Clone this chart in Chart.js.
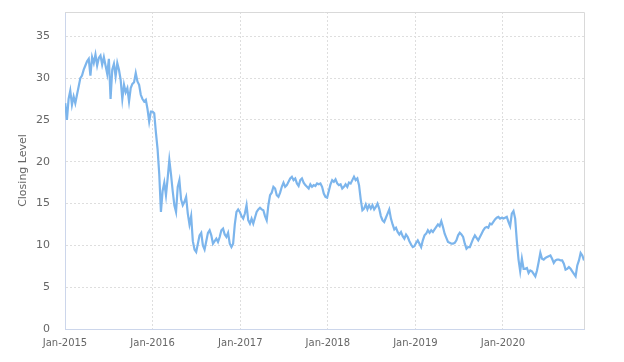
<!DOCTYPE html>
<html>
<head>
<meta charset="utf-8">
<script src="https://cdn.jsdelivr.net/npm/chart.js@4/dist/chart.umd.min.js"></script>
<style>
  html, body { margin: 0; padding: 0; background: #fff; }
  #wrap { width: 624px; height: 362px; position: relative; }
</style>
</head>
<body>
<div id="wrap"><canvas id="grafico"></canvas></div>
<script>
// weekly closing levels, first week ending 2015-01-02
var primeraSemana = "2015-01-02";
var cierres2015 = [27, 25, 27.5, 28.5, 26.8, 27.8, 27, 28, 29, 30, 30.3, 31, 31.5, 32, 32.3, 30.3, 32.5, 31.8, 32.8, 31.5,
  32.4, 32.7, 31.6, 32.5, 31.5, 30.5, 32.3, 27.5, 31, 31.7, 30.2, 31.8, 31, 29.8, 27.5, 29.2, 28.3, 28.8, 27.2, 28.8,
  29.3, 29.5, 30.6, 29.6, 29.2, 28, 27.5, 27.2, 27.4, 26.3, 24.8, 26];
var cierres2016 = [26, 25.8, 23.5, 21.5, 18.5, 14, 16.5, 17.5, 16, 18, 20.2, 18.5, 16.5, 14.8, 14, 17, 17.8, 15.5, 14.8, 15.2,
  15.8, 13.8, 12.5, 13.5, 10.5, 9.5, 9.2, 10.2, 11.2, 11.5, 10, 9.5, 10.5, 11.5, 11.8, 11.2, 10.2, 10.5, 10.8, 10.4,
  11, 11.8, 12, 11.3, 11, 11.5, 10.2, 9.8, 10.2, 12.5, 14, 14.3];
var cierres2017 = [14, 13.5, 13.2, 13.8, 14.8, 13, 12.6, 13.2, 12.6, 13.3, 14, 14.3, 14.5, 14.3, 14.2, 13.5, 13, 14.8, 16, 16.3,
  17, 16.8, 16, 15.8, 16.3, 17, 17.5, 17, 17.2, 17.6, 18, 18.2, 17.8, 18, 17.4, 17.1, 17.8, 18, 17.5, 17.2,
  17, 16.8, 17.3, 17, 17.2, 17.1, 17.4, 17.3, 17.4, 17, 16.2, 15.8];
var cierres2018 = [15.7, 16.5, 17.3, 17.8, 17.6, 17.9, 17.4, 17.2, 17.3, 16.8, 17, 17.3, 17, 17.5, 17.4, 17.8, 18.2, 17.8, 18, 17.2,
  15.5, 14.2, 14.4, 14.9, 14.3, 14.8, 14.4, 14.8, 14.3, 14.6, 15, 14.4, 13.5, 13, 12.8, 13.3, 13.8, 14.3, 13.2, 12.5,
  11.9, 12.1, 11.6, 11.3, 11.6, 11.1, 10.8, 11.3, 11, 10.5, 10.1, 9.8];
var cierres2019 = [9.9, 10.3, 10.6, 10.2, 9.8, 10.6, 11.2, 11.4, 11.8, 11.5, 11.8, 11.6, 11.9, 12.2, 12.5, 12.3, 12.9, 12.2, 11.4, 10.9,
  10.4, 10.3, 10.2, 10.2, 10.3, 10.6, 11.2, 11.5, 11.3, 11, 10.2, 9.6, 9.8, 9.8, 10.3, 10.8, 11.2, 10.9, 10.6, 11,
  11.4, 11.8, 12.1, 12.2, 12.1, 12.6, 12.5, 12.8, 13.1, 13.3, 13.4, 13.2];
var cierres2020 = [13.3, 13.2, 13.3, 13.4, 12.8, 12.3, 13.8, 14.1, 13.2, 10.5, 8.3, 6.9, 8.4, 7.2, 7.2, 7.3, 6.7, 7, 6.9, 6.6,
  6.3, 7, 8, 9.1, 8.4, 8.3, 8.5, 8.6, 8.7, 8.8, 8.4, 7.9, 8.2, 8.3, 8.3, 8.2, 8.2, 7.8, 7.1, 7.2,
  7.4, 7.2, 6.9, 6.6, 6.3, 7.6, 8.2, 9.1, 8.8, 8.2];
var aniosEje = [2015, 2016, 2017, 2018, 2019, 2020];
var ticksY = [0, 5, 10, 15, 20, 25, 30, 35];

var cierres = [].concat(cierres2015, cierres2016, cierres2017, cierres2018, cierres2019, cierres2020);
var inicio = Date.parse(primeraSemana + "T00:00:00Z");
var semana = 7 * 24 * 3600 * 1000;
var puntos = cierres.map(function (v, i) { return { x: inicio + i * semana, y: v }; });

// frame on top and right
var marco = {
  id: "marco",
  afterDraw: function (chart) {
    var a = chart.chartArea, ctx = chart.ctx;
    ctx.save();
    ctx.strokeStyle = "#d9d9d9";
    ctx.lineWidth = 1;
    ctx.beginPath();
    ctx.moveTo(a.left, a.top + 0.5);
    ctx.lineTo(a.right + 0.5, a.top + 0.5);
    ctx.lineTo(a.right + 0.5, a.bottom);
    ctx.stroke();
    ctx.restore();
  }
};

var ctx = document.getElementById("grafico").getContext("2d");
var chart = new Chart(ctx, {
  type: "line",
  data: {
    datasets: [{
      label: "Closing Level",
      data: puntos,
      borderColor: "#7cb5ec",
      borderWidth: 2.2,
      pointRadius: 0,
      tension: 0,
      fill: false
    }]
  },
  options: {
    responsive: true,
    maintainAspectRatio: false,
    animation: false,
    layout: { padding: { top: 12, right: 40, left: 0, bottom: 0 } },
    plugins: { legend: { display: false }, tooltip: { enabled: false } },
    scales: {
      x: {
        type: "linear",
        min: Date.UTC(aniosEje[0], 0, 1),
        max: puntos[puntos.length - 1].x,
        afterBuildTicks: function (scale) {
          scale.ticks = aniosEje.map(function (a) { return { value: Date.UTC(a, 0, 1) }; });
        },
        afterFit: function (scale) { scale.height = 33; },
        ticks: {
          color: "#666",
          font: { family: "DejaVu Sans", size: 10 },
          padding: 8,
          maxRotation: 0,
          autoSkip: false,
          callback: function (v) { return "Jan-" + new Date(v).getUTCFullYear(); }
        },
        grid: {
          drawTicks: false,
          color: function (c) { return c.index === 0 ? "rgba(0,0,0,0)" : "#dedede"; },
          lineWidth: 1
        },
        border: { color: "#ccd6eb", width: 1, dash: [2, 2] }
      },
      y: {
        min: 0,
        max: 37.9,
        afterBuildTicks: function (scale) {
          scale.ticks = ticksY.map(function (t) { return { value: t }; });
        },
        afterFit: function (scale) {
          scale.width = 65;
          scale.paddingTop = 0;
          scale.paddingBottom = 0;
        },
        ticks: {
          color: "#666",
          font: { family: "DejaVu Sans", size: 11 },
          padding: 15
        },
        grid: {
          drawTicks: false,
          color: function (c) { return c.tick && c.tick.value === 0 ? "rgba(0,0,0,0)" : "#dedede"; },
          lineWidth: 1
        },
        border: { color: "#ccd6eb", width: 1, dash: [2, 2] },
        title: {
          display: true,
          text: "Closing Level",
          color: "#666",
          font: { family: "DejaVu Sans", size: 11 },
          padding: { top: 17, bottom: 0 }
        }
      }
    }
  },
  plugins: [marco]
});
</script>
</body>
</html>
